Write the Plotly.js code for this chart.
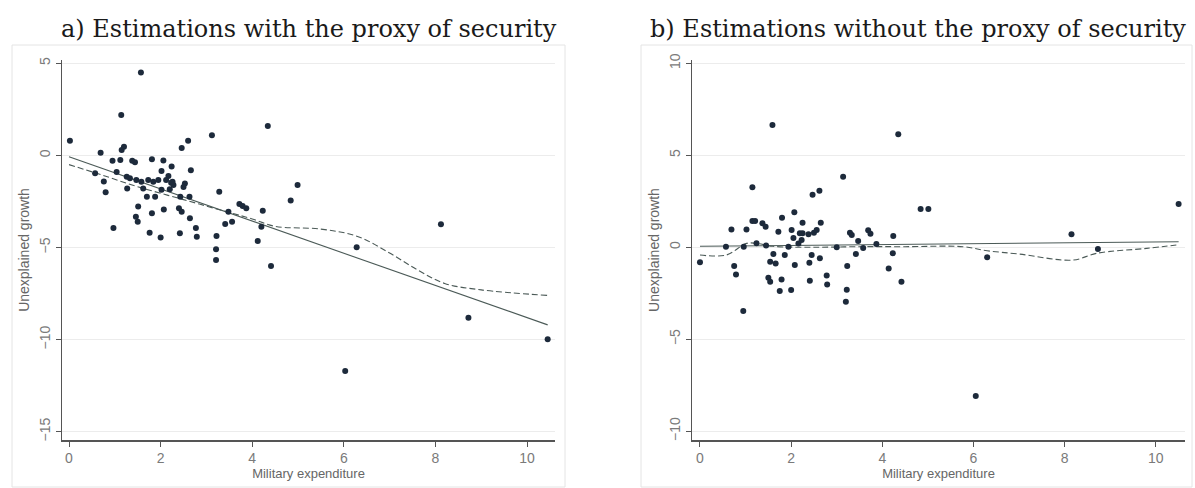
<!DOCTYPE html>
<html>
<head>
<meta charset="utf-8">
<script src="https://cdn.plot.ly/plotly-3.0.1.min.js"></script>
<style>
html,body{margin:0;padding:0;background:#fff;}
#chart{width:1195px;height:488px;}
</style>
</head>
<body>
<div id="chart"></div>
<script>
// Panel a) Estimations with the proxy of security
const panelATitle = "a) Estimations with the proxy of security";
const aX = [0.02,1.57,1.14,3.12,4.34,2.6,2.46,1.2,1.15,0.69,0.95,1.12,1.38,1.44,1.81,2.06,2.24,2.02,2.66,0.57,
            1.04,0.76,0.8,1.27,1.26,1.33,1.47,1.58,1.73,1.84,1.95,2.12,2.17,2.23,2.28,1.62,2.02,2.53,2.5,1.7,
            1.88,2.43,2.63,3.28,1.51,2.07,2.4,2.46,1.81,1.46,1.5,2.64,0.97,1.76,2.0,2.42,2.77,2.79,3.22,3.21,
            3.21,3.41,3.56,3.48,3.72,3.79,3.87,4.23,4.2,4.12,4.84,4.99,6.28,8.12,4.41,8.72,10.45,6.03,2.2,2.26];
const aY = [0.8,4.5,2.2,1.1,1.6,0.8,0.4,0.47,0.3,0.15,-0.29,-0.25,-0.29,-0.37,-0.21,-0.27,-0.6,-0.85,-0.8,-0.97,
            -0.9,-1.41,-2.0,-1.8,-1.16,-1.24,-1.34,-1.43,-1.34,-1.43,-1.34,-1.34,-1.12,-1.48,-1.6,-1.79,-1.86,-1.52,-1.72,-2.25,
            -2.25,-2.24,-2.24,-1.97,-2.78,-2.93,-2.87,-3.06,-3.14,-3.33,-3.6,-3.41,-3.94,-4.2,-4.45,-4.22,-3.94,-4.42,-4.37,-5.1,
            -5.68,-3.72,-3.6,-3.06,-2.64,-2.75,-2.87,-3.0,-3.87,-4.65,-2.45,-1.61,-4.98,-3.74,-6.0,-8.81,-9.98,-11.7,-1.84,-1.43];
const aFitX = [0, 10.45];
const aFitY = [-0.07, -9.2];
const aLowessX = [0, 0.7, 1.5, 2.5, 3.5, 4.0, 4.5, 5.5, 6.3, 7.0, 7.6, 8.2, 9.0, 10.45];
const aLowessY = [-0.5, -1.05, -1.7, -2.4, -3.1, -3.45, -3.85, -4.0, -4.4, -5.3, -6.2, -6.95, -7.3, -7.6];

// Panel b) Estimations without the proxy of security
const panelBTitle = "b) Estimations without the proxy of security";
const bX = [1.59,4.35,1.15,3.14,2.47,2.62,2.07,1.8,0.69,1.15,1.21,1.02,1.37,1.44,1.72,2.25,2.01,2.19,2.25,2.38,
            2.5,2.56,2.65,3.29,3.69,3.74,4.24,0.57,1.24,4.84,5.01,8.15,10.5,8.73,0,0.75,0.79,0.95,0.96,1.61,
            1.54,1.66,1.86,2.08,1.5,1.54,1.79,1.75,2.0,2.41,2.4,2.45,2.63,2.78,2.79,3.23,3.22,3.2,3.42,3.58,
            3.87,4.23,4.14,4.42,2.16,2.23,1.94,3.33,3.47,6.3,6.05,1.45,2.05,3.0];
const bY = [6.65,6.14,3.26,3.83,2.86,3.07,1.9,1.6,0.97,1.42,1.42,0.97,1.3,1.12,0.84,1.33,0.94,0.76,0.76,0.7,
            0.79,0.94,1.33,0.79,0.92,0.74,0.61,0.03,0.22,2.08,2.08,0.7,2.35,-0.1,-0.82,-1.02,-1.48,-3.47,0.03,-0.37,
            -0.79,-0.88,-0.42,-0.97,-1.66,-1.88,-1.75,-2.38,-2.33,-1.82,-0.84,-0.42,-0.6,-1.54,-2.02,-1.02,-2.31,-2.96,-0.37,-0.04,
            0.18,-0.33,-1.16,-1.88,0.21,0.39,0.03,0.66,0.34,-0.55,-8.09,0.1,0.5,0.0];
const bFitX = [0, 10.5];
const bFitY = [0.05, 0.3];
const bLowessX = [0, 0.58, 1.02, 1.24, 1.6, 2.5, 3.5, 4.5, 5.77, 6.3, 7.0, 8.18, 8.7, 9.8, 10.45];
const bLowessY = [-0.42, -0.42, 0.21, 0.21, 0.05, 0.0, 0.03, 0.03, 0.03, -0.19, -0.37, -0.7, -0.33, -0.06, 0.12];

const xTicks = [0, 2, 4, 6, 8, 10];
const aYTicks = [-15, -10, -5, 0, 5];
const bYTicks = [-10, -5, 0, 5, 10];
const xTitle = "Military expenditure";
const yTitle = "Unexplained growth";

const markerColor = "#1d2a3b";
const lineColor = "#4b5a57";

function pts(x, y, xa, ya) {
  return {x: x, y: y, xaxis: xa, yaxis: ya, type: "scatter", mode: "markers",
          marker: {color: markerColor, size: 6}, hoverinfo: "x+y"};
}
function line(x, y, xa, ya, dash) {
  return {x: x, y: y, xaxis: xa, yaxis: ya, type: "scatter", mode: "lines",
          line: {color: lineColor, width: 1.1, dash: dash, shape: dash === "solid" ? "linear" : "spline"},
          hoverinfo: "skip"};
}

const traces = [
  line(aFitX, aFitY, "x", "y", "solid"),
  line(aLowessX, aLowessY, "x", "y", "6px,3px"),
  pts(aX, aY, "x", "y"),
  line(bFitX, bFitY, "x2", "y2", "solid"),
  line(bLowessX, bLowessY, "x2", "y2", "6px,3px"),
  pts(bX, bY, "x2", "y2")
];

const W = 1195, H = 488;
const tickFont = {family: "Liberation Sans, Arial, sans-serif", size: 14, color: "#7a7a7a"};
const xTitleFont = {family: "Liberation Sans, Arial, sans-serif", size: 13, color: "#666"};
const yTitleFont = {family: "Liberation Sans, Arial, sans-serif", size: 14, color: "#666"};

function xAxis(domain, range) {
  return {domain: domain, range: range, tickvals: xTicks, ticks: "outside", ticklen: 5, tickwidth: 1,
          tickcolor: "#555", showline: true, linecolor: "#555", linewidth: 1.5, showgrid: false,
          zeroline: false, tickfont: tickFont, title: {text: xTitle, font: xTitleFont, standoff: 2}};
}
function yAxis(domain, range, ticks, anchor) {
  return {domain: domain, range: range, tickvals: ticks, ticks: "outside", ticklen: 5, tickwidth: 1,
          tickcolor: "#555", showline: true, linecolor: "#555", linewidth: 1.5, showgrid: true,
          gridcolor: "#ececec", gridwidth: 1, zeroline: false, tickangle: -90, tickfont: tickFont,
          anchor: anchor, title: {text: yTitle, font: yTitleFont, standoff: 4}};
}

const yDom = [(H - 440) / H, (H - 60) / H];
const layout = {
  width: W, height: H,
  margin: {l: 0, r: 0, t: 0, b: 0},
  paper_bgcolor: "#fff", plot_bgcolor: "#fff",
  showlegend: false,
  xaxis: Object.assign(xAxis([62 / W, 555 / W], [-0.153, 10.61]), {anchor: "y"}),
  yaxis: yAxis(yDom, [-15.45, 5.18], aYTicks, "x"),
  xaxis2: Object.assign(xAxis([692 / W, 1185 / W], [-0.175, 10.64]), {anchor: "y2"}),
  yaxis2: yAxis(yDom, [-10.48, 10.18], bYTicks, "x2"),
  shapes: [
    {type: "rect", xref: "paper", yref: "paper", x0: 12 / W, x1: 565 / W, y0: 1 / H, y1: (H - 45) / H,
     line: {color: "#e4e4e4", width: 1}, layer: "below"},
    {type: "rect", xref: "paper", yref: "paper", x0: 641 / W, x1: 1192 / W, y0: 1 / H, y1: (H - 45) / H,
     line: {color: "#e4e4e4", width: 1}, layer: "below"}
  ],
  annotations: [
    {text: panelATitle, xref: "paper", yref: "paper", x: 309 / W, y: (H - 29) / H, showarrow: false,
     xanchor: "center", yanchor: "middle", font: {family: "DejaVu Serif, serif", size: 24, color: "#1a1a1a"}},
    {text: panelBTitle, xref: "paper", yref: "paper", x: 918 / W, y: (H - 29) / H, showarrow: false,
     xanchor: "center", yanchor: "middle", font: {family: "DejaVu Serif, serif", size: 24, color: "#1a1a1a"}}
  ]
};

Plotly.newPlot("chart", traces, layout, {displayModeBar: false, staticPlot: true});
</script>
</body>
</html>
